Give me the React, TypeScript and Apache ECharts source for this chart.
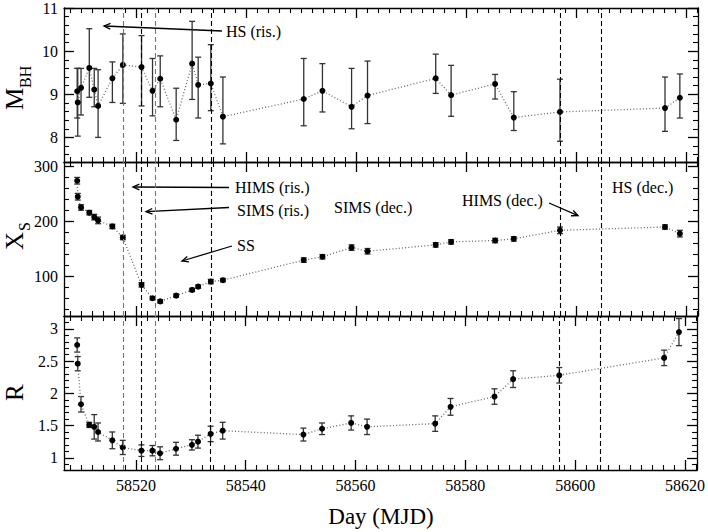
import React, { useEffect, useRef } from "react";
import * as echarts from "echarts";

// ---------- data ----------
const days = [58509.3, 58509.4, 58510.0, 58511.5, 58512.4, 58513.1, 58515.7, 58517.6, 58521.0, 58523.0, 58524.4, 58527.3, 58530.2, 58531.3, 58533.6, 58535.8, 58550.5, 58553.9, 58559.2, 58562.1, 58574.5, 58577.3, 58585.3, 58588.7, 58597.1, 58616.2, 58618.9];

const mbh = [9.07, 8.81, 9.15, 9.61, 9.11, 8.73, 9.37, 9.68, 9.63, 9.08, 9.36, 8.41, 9.71, 9.22, 9.25, 8.48, 8.89, 9.08, 8.71, 8.97, 9.37, 8.98, 9.24, 8.46, 8.59, 8.68, 8.92];
const mbhHi = [9.6, 9.6, 9.6, 10.52, 9.6, 9.57, 9.75, 10.4, 10.36, 9.83, 9.89, 9.14, 10.69, 9.86, 10.15, 9.4, 9.83, 9.71, 9.6, 9.77, 9.93, 9.67, 9.46, 9.06, 9.35, 9.4, 9.47];
const mbhLo = [8.45, 8.03, 8.52, 8.93, 8.71, 8.0, 8.81, 8.79, 8.73, 8.5, 8.71, 7.93, 8.88, 8.45, 8.62, 7.85, 8.27, 8.59, 8.2, 8.32, 9.02, 8.49, 8.89, 8.16, 7.91, 8.14, 8.45];

const xs = [274, 245, 225.5, 216, 208, 202, 191, 171, 85, 60.7, 55, 65.5, 75.8, 81.8, 91, 93.5, 130, 136, 152.7, 146, 157.6, 163, 165.5, 168.5, 184, 190, 178];
const xsErr = [6, 6, 5, 4, 5, 6, 4, 4, 4, 3, 3, 3, 3, 3, 4, 3, 4, 4, 5, 5, 4, 4, 4, 4, 6, 4, 6];

const rv = [2.75, 2.46, 1.83, 1.51, 1.48, 1.4, 1.27, 1.16, 1.11, 1.11, 1.07, 1.14, 1.2, 1.25, 1.37, 1.42, 1.36, 1.45, 1.54, 1.48, 1.53, 1.79, 1.95, 2.22, 2.28, 2.55, 2.95];
const rErr = [0.11, 0.11, 0.12, 0.04, 0.19, 0.14, 0.13, 0.11, 0.09, 0.08, 0.1, 0.1, 0.08, 0.1, 0.12, 0.13, 0.1, 0.09, 0.11, 0.12, 0.12, 0.13, 0.12, 0.13, 0.12, 0.12, 0.21];

const stateDays = [58517.6, 58521.0, 58523.5, 58533.6, 58597.1, 58604.6];

const xMajor = [58520, 58540, 58560, 58580, 58600, 58620];
const mbhMajor = [8, 9, 10, 11];
const xsMajor = [100, 200, 300];
const rMajor = [1, 1.5, 2, 2.5, 3];

// ---------- styling ----------
const stateLineColors = ["#777", "#000", "#777", "#000", "#000", "#000"];
const FONT = "Liberation Serif";

function minorTicks(start: number, end: number, step: number, major: number[]) {
  const out: number[] = [];
  const n = Math.round((end - start) / step);
  for (let i = 0; i <= n; i++) {
    const v = Math.round((start + i * step) * 1000) / 1000;
    if (!major.some((m) => Math.abs(m - v) < 1e-6)) out.push(v);
  }
  return out;
}

const xMinor = minorTicks(58508, 58622, 2, xMajor);

const panels = [
  {
    vals: mbh, lo: mbhLo, hi: mbhHi, min: 7.43, max: 11,
    major: mbhMajor, minor: minorTicks(7.6, 10.8, 0.2, mbhMajor), top: 7, height: 155,
  },
  {
    vals: xs, lo: xs.map((v, i) => v - xsErr[i]), hi: xs.map((v, i) => v + xsErr[i]), min: 28.5, max: 308,
    major: xsMajor, minor: minorTicks(40, 300, 20, xsMajor), top: 162, height: 154,
  },
  {
    vals: rv, lo: rv.map((v, i) => v - rErr[i]), hi: rv.map((v, i) => v + rErr[i]), min: 0.81, max: 3.2,
    major: rMajor, minor: minorTicks(0.9, 3.1, 0.1, rMajor), top: 316, height: 154,
  },
];

const X_MIN = 58506.9;
const X_MAX = 58622.2;

function arrow(x1: number, y1: number, x2: number, y2: number) {
  const ang = Math.atan2(y2 - y1, x2 - x1);
  const L = 7;
  const a = 0.42;
  const p1 = [x2 - L * Math.cos(ang - a), y2 - L * Math.sin(ang - a)];
  const p2 = [x2 - L * Math.cos(ang + a), y2 - L * Math.sin(ang + a)];
  return [
    { type: "line", silent: true, shape: { x1, y1, x2, y2 }, style: { stroke: "#000", lineWidth: 1.3 } },
    { type: "polyline", silent: true, shape: { points: [p1, [x2, y2], p2] }, style: { stroke: "#000", lineWidth: 1.3, fill: null } },
  ];
}

function txtStyle(text: string, size: number, align = "left") {
  return {
    text,
    fontFamily: FONT,
    fontSize: size,
    fill: "#000",
    align,
    verticalAlign: "middle",
    textAlign: align,
    textVerticalAlign: "middle",
  };
}

function label(text: string, x: number, y: number, size = 16) {
  return { type: "text", silent: true, x, y, style: txtStyle(text, size) };
}

function buildOption() {
  const grid: any[] = [];
  const xAxis: any[] = [];
  const yAxis: any[] = [];
  const series: any[] = [];
  const lineAx = { show: true, onZero: false, lineStyle: { color: "#000", width: 1.3 } };
  const noLine = { show: false, onZero: false };

  panels.forEach((p, g) => {
    grid.push({ left: 64, right: 10, top: p.top, height: p.height, containLabel: false });
    const isLast = g === panels.length - 1;
    const baseX = { gridIndex: g, type: "value", min: X_MIN, max: X_MAX, splitLine: { show: false } };
    xAxis.push({
      ...baseX, position: "bottom", axisLine: lineAx,
      axisTick: { show: true, inside: true, length: 10, customValues: xMajor, lineStyle: { color: "#000", width: 1.3 } },
      axisLabel: {
        show: isLast, customValues: xMajor, margin: 7, color: "#000", fontFamily: FONT, fontSize: 16,
        formatter: (v: number) => String(v),
      },
    });
    xAxis.push({
      ...baseX, position: "bottom", axisLine: noLine,
      axisTick: { show: true, inside: true, length: 5, customValues: xMinor, lineStyle: { color: "#000", width: 1.1 } },
      axisLabel: { show: false },
    });
    xAxis.push({
      ...baseX, position: "top", axisLine: lineAx,
      axisTick: { show: true, inside: true, length: 10, customValues: xMajor, lineStyle: { color: "#000", width: 1.3 } },
      axisLabel: { show: false },
    });
    xAxis.push({
      ...baseX, position: "top", axisLine: noLine,
      axisTick: { show: true, inside: true, length: 5, customValues: xMinor, lineStyle: { color: "#000", width: 1.1 } },
      axisLabel: { show: false },
    });

    const baseY = { gridIndex: g, type: "value", min: p.min, max: p.max, splitLine: { show: false } };
    yAxis.push({
      ...baseY, position: "left", axisLine: lineAx,
      axisTick: { show: true, inside: true, length: 10, customValues: p.major, lineStyle: { color: "#000", width: 1.3 } },
      axisLabel: {
        show: true, customValues: p.major, margin: 6, color: "#000", fontFamily: FONT, fontSize: 16,
        formatter: (v: number) => String(v),
      },
    });
    yAxis.push({
      ...baseY, position: "left", axisLine: noLine,
      axisTick: { show: true, inside: true, length: 5, customValues: p.minor, lineStyle: { color: "#000", width: 1.1 } },
      axisLabel: { show: false },
    });
    yAxis.push({
      ...baseY, position: "right", axisLine: lineAx,
      axisTick: { show: true, inside: true, length: 10, customValues: p.major, lineStyle: { color: "#000", width: 1.3 } },
      axisLabel: { show: false },
    });
    yAxis.push({
      ...baseY, position: "right", axisLine: noLine,
      axisTick: { show: true, inside: true, length: 5, customValues: p.minor, lineStyle: { color: "#000", width: 1.1 } },
      axisLabel: { show: false },
    });

    const xi = g * 4;
    const yi = g * 4;

    series.push({
      type: "custom",
      xAxisIndex: xi,
      yAxisIndex: yi,
      silent: true,
      encode: { x: 0, y: [1, 2] },
      data: days.map((d, i) => [d, p.lo[i], p.hi[i]]),
      renderItem: (_params: any, api: any) => {
        const x = api.value(0);
        const a = api.coord([x, api.value(2)]);
        const b = api.coord([x, api.value(1)]);
        const w = 3;
        const st = { stroke: "#333", lineWidth: 1.3 };
        return {
          type: "group",
          children: [
            { type: "line", shape: { x1: a[0], y1: a[1], x2: b[0], y2: b[1] }, style: st },
            { type: "line", shape: { x1: a[0] - w, y1: a[1], x2: a[0] + w, y2: a[1] }, style: st },
            { type: "line", shape: { x1: b[0] - w, y1: b[1], x2: b[0] + w, y2: b[1] }, style: st },
          ],
        };
      },
      z: 2,
    });

    series.push({
      type: "line",
      xAxisIndex: xi,
      yAxisIndex: yi,
      data: days.map((d, i) => [d, p.vals[i]]),
      symbol: "circle",
      symbolSize: 6,
      showSymbol: true,
      itemStyle: { color: "#000" },
      lineStyle: { color: "#666", width: 1.3, type: [1, 2.2] },
      silent: true,
      z: 3,
      markLine: {
        silent: true,
        symbol: ["none", "none"],
        label: { show: false },
        data: stateDays.map((d, i) => ({
          xAxis: d,
          lineStyle: { color: stateLineColors[i], type: [5, 3], width: 1.1 },
        })),
      },
    });
  });

  const graphic: any[] = [
    // annotations
    label("HS (ris.)", 226, 31),
    ...arrow(222, 31, 104, 26),
    label("HIMS (ris.)", 235, 187),
    ...arrow(229, 187.5, 133, 187),
    label("SIMS (ris.)", 237, 210),
    ...arrow(229, 207.5, 146, 211.7),
    label("SS", 237, 245),
    ...arrow(232, 246, 182, 261),
    label("SIMS (dec.)", 334, 207),
    label("HIMS (dec.)", 462, 200),
    ...arrow(549, 203, 578, 215.7),
    label("HS (dec.)", 612, 187),
    // axis titles
    { type: "text", silent: true, x: 381, y: 516, style: txtStyle("Day (MJD)", 23, "center") },
    {
      type: "group",
      x: 14,
      y: 110,
      rotation: Math.PI / 2,
      children: [
        { type: "text", silent: true, x: 0, y: 0, style: txtStyle("M", 25) },
        { type: "text", silent: true, x: 22, y: 11, style: txtStyle("BH", 16) },
      ],
    },
    {
      type: "group",
      x: 14,
      y: 250,
      rotation: Math.PI / 2,
      children: [
        { type: "text", silent: true, x: 0, y: 0, style: txtStyle("X", 25) },
        { type: "text", silent: true, x: 19, y: 10, style: txtStyle("S", 16) },
      ],
    },
    {
      type: "group",
      x: 14,
      y: 401,
      rotation: Math.PI / 2,
      children: [{ type: "text", silent: true, x: 0, y: 0, style: txtStyle("R", 25) }],
    },
  ];

  return {
    animation: false,
    backgroundColor: "#fff",
    grid,
    xAxis,
    yAxis,
    series,
    graphic,
  };
}

export default function App() {
  const ref = useRef<HTMLDivElement>(null);
  useEffect(() => {
    if (!ref.current) return;
    const chart = echarts.init(ref.current, undefined, { renderer: "svg" });
    chart.setOption(buildOption() as any);
    return () => chart.dispose();
  }, []);
  return (
    <div
      ref={ref}
      style={{ position: "fixed", left: 0, top: 0, width: 708, height: 532, background: "#fff" }}
    />
  );
}
